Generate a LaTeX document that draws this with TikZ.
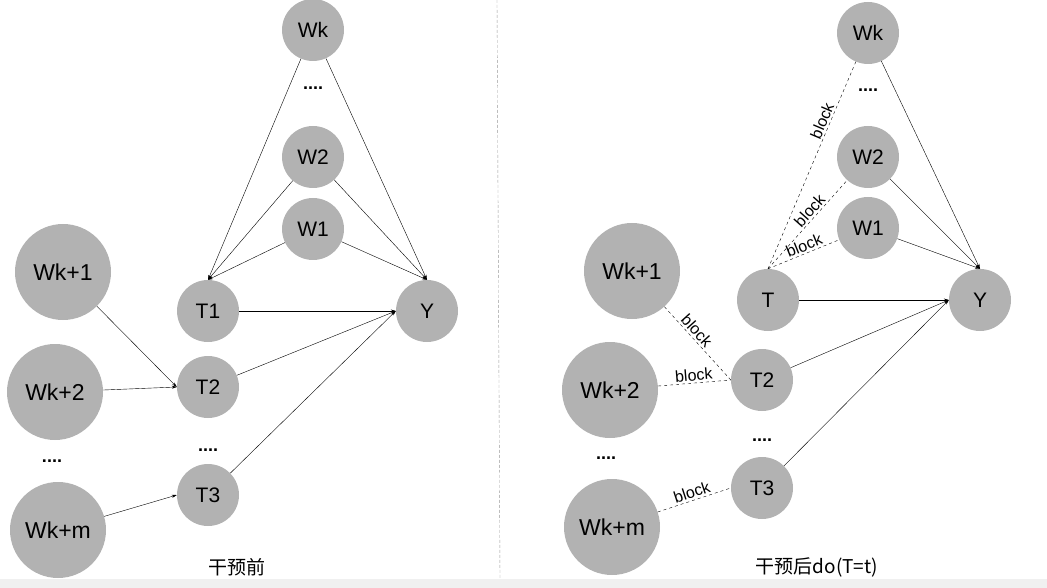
\documentclass[tikz,border=0pt]{standalone}
\usepackage{fontspec}
\setmainfont{Liberation Sans}
\newfontfamily\cjk{Noto Sans CJK SC}
\usetikzlibrary{arrows.meta}
\begin{document}
\begin{tikzpicture}[x=1pt,y=-1pt,
   var/.style={circle,fill=black!30,minimum size=62pt,inner sep=0pt,font=\fontsize{21}{23}\selectfont},
   big/.style={var,minimum size=96pt,font=\fontsize{23}{25}\selectfont},
   arr/.style={-{Stealth[length=5pt,width=3pt]},thin},
   blk/.style={dashed,thin},
   lab/.style={font=\fontsize{16}{18}\selectfont,sloped,above,inner sep=2pt},
   dots/.style={font=\bfseries\fontsize{18}{18}\selectfont}]
   \useasboundingbox (0,0) rectangle (1047,588);
   \fill[black!6] (0,579) rectangle (1047,588);
   \draw[black!40,densely dashed] (497,0) -- (500,579);
   % before intervention
   \node[var] (wk)  at (313,30)  {Wk};
   \node[var] (w2)  at (313,157) {W2};
   \node[var] (w1)  at (313,229) {W1};
   \node[var] (t1)  at (208,311) {T1};
   \node[var] (t2)  at (208,387) {T2};
   \node[var] (t3)  at (208,495) {T3};
   \node[var] (y)   at (427,311) {Y};
   \node[big] (wk1) at (63,272)  {Wk+1};
   \node[big] (wk2) at (55,392)  {Wk+2};
   \node[big] (wkm) at (58,530)  {Wk+m};
   \node[dots] (d1) at (313,88)  {....};
   \node[dots] (d2) at (208,450) {....};
   \node[dots] (d3) at (52,461)  {....};
   \node[font=\cjk\fontsize{19}{21}\selectfont] (l1) at (237,567) {干预前};
   \foreach \w in {wk,w2,w1} {
     \draw[arr] (\w) -- (t1.north);
     \draw[arr] (\w) -- (y.north);
   }
   \draw[arr] (t1) -- (y.west);
   \draw[arr] (t2) -- (y.west);
   \draw[arr] (t3) -- (y.west);
   \draw[arr] (wk1) -- (t2.west);
   \draw[arr] (wk2) -- (t2.west);
   \draw[arr] (wkm) -- (t3.west);
   % after intervention
   \node[var] (rwk)  at (868,33)  {Wk};
   \node[var] (rw2)  at (868,157) {W2};
   \node[var] (rw1)  at (868,228) {W1};
   \node[var] (rt)   at (768,300) {T};
   \node[var] (rt2)  at (762,380) {T2};
   \node[var] (rt3)  at (762,488) {T3};
   \node[var] (ry)   at (980,300) {Y};
   \node[big] (rwk1) at (632,271) {Wk+1};
   \node[big] (rwk2) at (610,390) {Wk+2};
   \node[big] (rwkm) at (612,527) {Wk+m};
   \node[dots] (rd1) at (868,90)  {....};
   \node[dots] (rd2) at (762,440) {....};
   \node[dots] (rd3) at (606,458) {....};
   \node[font=\cjk\fontsize{19}{21}\selectfont] (l2) at (817,567) {干预后do(T=t)};
   \draw[blk] (rt.north) -- node[lab,pos=.7] {block} (rwk);
   \draw[blk] (rt.north) -- node[lab,pos=.6] {block} (rw2);
   \draw[blk] (rt.north) -- node[lab,pos=.55] {block} (rw1);
   \foreach \w in {rwk,rw2,rw1} \draw[arr] (\w) -- (ry.north);
   \draw[arr] (rt) -- (ry.west);
   \draw[arr] (rt2) -- (ry.west);
   \draw[arr] (rt3) -- (ry.west);
   \draw[blk] (rwk1) -- node[lab,pos=.4] {block} (rt2.west);
   \draw[blk] (rwk2) -- node[lab] {block} (rt2.west);
   \draw[blk] (rwkm) -- node[lab] {block} (rt3.west);
\end{tikzpicture}
\end{document}
